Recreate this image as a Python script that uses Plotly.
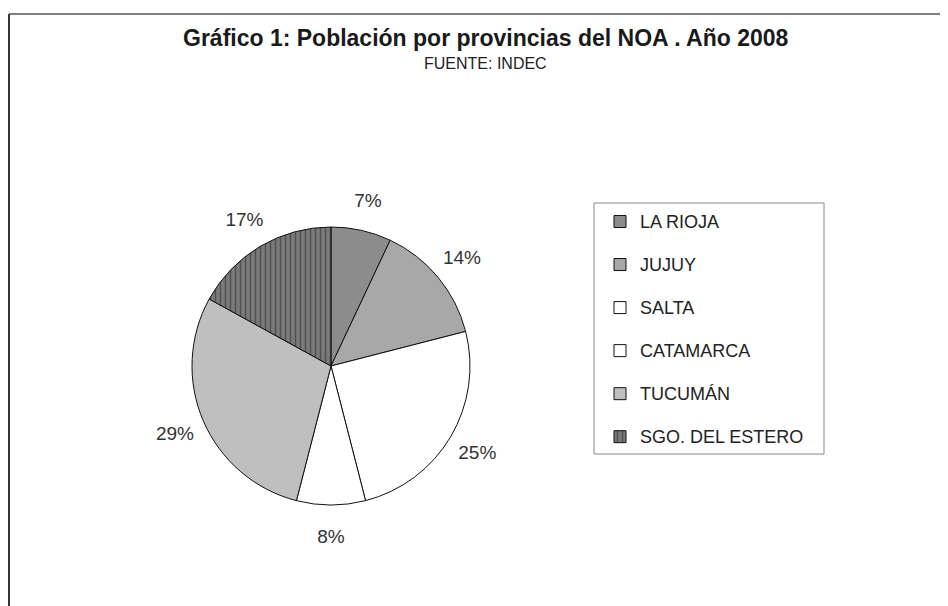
import plotly.graph_objects as go

provincias = ["LA RIOJA", "JUJUY", "SALTA", "CATAMARCA", "TUCUMÁN", "SGO. DEL ESTERO"]
porcentajes = [7, 14, 25, 8, 29, 17]
colores = ["#8c8c8c", "#a8a8a8", "#ffffff", "#ffffff", "#bfbfbf", "#7a7a7a"]
patrones = ["", "", "", "", "", "|"]

W, H = 948, 606
OFF = 8  # page body margin
cx, cy, r = 331 - OFF, 366 - OFF, 139
r_lab = 170      # radius at which percentage labels sit
r_ring = 196     # outer radius of the invisible label ring

FONT = "Liberation Sans, Arial, sans-serif"


def dom(rad):
    return dict(x=[(cx - rad) / W, (cx + rad) / W], y=[(H - cy - rad) / H, (H - cy + rad) / H])


legend_labels = ["<span style='font-size:18px'>" + p + "</span><br> " for p in provincias]

fig = go.Figure()
fig.add_trace(go.Pie(
    labels=legend_labels,
    values=porcentajes,
    sort=False,
    direction="clockwise",
    rotation=0,
    marker=dict(colors=colores, line=dict(color="#111111", width=1),
                pattern=dict(shape=patrones, fgcolor="#505050", bgcolor="#7a7a7a",
                             size=5, solidity=0.3)),
    textinfo="none",
    domain=dom(r),
    hoverinfo="percent",
))
# invisible ring carrying the percentage labels a little outside the pie
fig.add_trace(go.Pie(
    labels=legend_labels,
    values=porcentajes,
    sort=False,
    direction="clockwise",
    rotation=0,
    hole=2 * r_lab / r_ring - 1,
    marker=dict(colors=["rgba(0,0,0,0)"] * len(provincias), line=dict(width=0)),
    texttemplate="%{percent:.0%}",
    textposition="inside",
    insidetextorientation="horizontal",
    insidetextfont=dict(family=FONT, size=19, color="#333333"),
    domain=dom(r_ring),
    showlegend=False,
    hoverinfo="skip",
))


def px(x):
    return (x - OFF) / W


def py(y):
    return 1 - (y - OFF) / H


fig.update_layout(
    width=W, height=H,
    margin=dict(l=0, r=0, t=0, b=0),
    paper_bgcolor="white",
    plot_bgcolor="white",
    showlegend=True,
    uniformtext=dict(minsize=19, mode="show"),
    legend=dict(
        x=px(600), y=py(205), xanchor="left", yanchor="top",
        borderwidth=0, bgcolor="rgba(0,0,0,0)",
        font=dict(family=FONT, size=15.4, color="#222222"),
        valign="top", itemwidth=30,
    ),
    annotations=[
        dict(text="<b>Gráfico 1: Población por provincias del NOA . Año 2008</b>",
             x=px(486), y=py(38), xref="paper", yref="paper", showarrow=False,
             xanchor="center", yanchor="middle",
             font=dict(family=FONT, size=23, color="#1a1a1a")),
        dict(text="FUENTE: INDEC",
             x=px(486), y=py(63), xref="paper", yref="paper", showarrow=False,
             xanchor="center", yanchor="middle",
             font=dict(family=FONT, size=16, color="#222222")),
    ],
    shapes=[
        dict(type="line", xref="paper", yref="paper", x0=px(9), y0=py(14), x1=1, y1=py(14),
             line=dict(color="#555555", width=1.5)),
        dict(type="line", xref="paper", yref="paper", x0=px(9), y0=py(14), x1=px(9), y1=0,
             line=dict(color="#333333", width=2)),
        dict(type="rect", xref="paper", yref="paper", x0=px(594), y0=py(203), x1=px(824), y1=py(454),
             line=dict(color="#888888", width=1), layer="below"),
    ],
)

fig.write_html("out.html")
